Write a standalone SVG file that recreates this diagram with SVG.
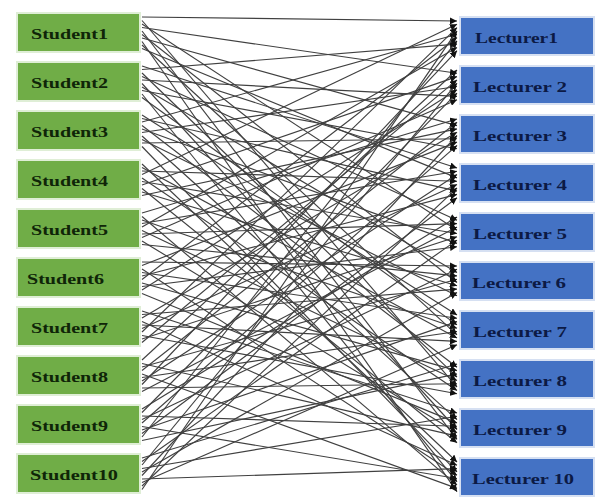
<svg xmlns="http://www.w3.org/2000/svg" width="595" height="498" viewBox="0 0 595 498">
<style>
.s rect{fill:#70AD47;stroke:#dfeed6;stroke-width:2}
.l rect{fill:#4472C4;stroke:#d6e0f2;stroke-width:2}
.s text{font-family:"Liberation Serif",serif;font-weight:bold;font-size:15px;fill:#0f2508}
.l text{font-family:"Liberation Serif",serif;font-weight:bold;font-size:15px;fill:#0c1a45}
#edges line{stroke:#404040;stroke-width:1.15;marker-end:url(#ah)}
</style>
<defs>
<marker id="ah" markerUnits="userSpaceOnUse" markerWidth="8" markerHeight="7" refX="7" refY="3.5" orient="auto">
<path d="M0,0 L7,3.5 L0,7 Z" fill="#111"/>
</marker>
</defs>
<rect width="595" height="498" fill="#fff"/>
<g id="nodes-students">
<g id="student1" class="s"><rect x="17" y="13" width="123" height="39"/><text x="31" y="38.5" textLength="77" lengthAdjust="spacingAndGlyphs">Student1</text></g>
<g id="student2" class="s"><rect x="17" y="62" width="123" height="39"/><text x="31" y="87.5" textLength="77" lengthAdjust="spacingAndGlyphs">Student2</text></g>
<g id="student3" class="s"><rect x="17" y="111" width="123" height="39"/><text x="31" y="136.5" textLength="77" lengthAdjust="spacingAndGlyphs">Student3</text></g>
<g id="student4" class="s"><rect x="17" y="160" width="123" height="39"/><text x="31" y="185.5" textLength="77" lengthAdjust="spacingAndGlyphs">Student4</text></g>
<g id="student5" class="s"><rect x="17" y="209" width="123" height="39"/><text x="31" y="234.5" textLength="77" lengthAdjust="spacingAndGlyphs">Student5</text></g>
<g id="student6" class="s"><rect x="17" y="258" width="123" height="39"/><text x="27" y="283.5" textLength="77" lengthAdjust="spacingAndGlyphs">Student6</text></g>
<g id="student7" class="s"><rect x="17" y="307" width="123" height="39"/><text x="31" y="332.5" textLength="77" lengthAdjust="spacingAndGlyphs">Student7</text></g>
<g id="student8" class="s"><rect x="17" y="356" width="123" height="39"/><text x="31" y="381.5" textLength="77" lengthAdjust="spacingAndGlyphs">Student8</text></g>
<g id="student9" class="s"><rect x="17" y="405" width="123" height="39"/><text x="31" y="430.5" textLength="77" lengthAdjust="spacingAndGlyphs">Student9</text></g>
<g id="student10" class="s"><rect x="17" y="454" width="123" height="39"/><text x="30" y="479.5" textLength="88" lengthAdjust="spacingAndGlyphs">Student10</text></g>
</g>
<g id="nodes-lecturers">
<g id="lecturer1" class="l"><rect x="460" y="17" width="134" height="38"/><text x="475" y="42.5" textLength="83" lengthAdjust="spacingAndGlyphs">Lecturer1</text></g>
<g id="lecturer2" class="l"><rect x="460" y="66" width="134" height="38"/><text x="473" y="91.5" textLength="94" lengthAdjust="spacingAndGlyphs">Lecturer 2</text></g>
<g id="lecturer3" class="l"><rect x="460" y="115" width="134" height="38"/><text x="473" y="140.5" textLength="94" lengthAdjust="spacingAndGlyphs">Lecturer 3</text></g>
<g id="lecturer4" class="l"><rect x="460" y="164" width="134" height="38"/><text x="473" y="189.5" textLength="94" lengthAdjust="spacingAndGlyphs">Lecturer 4</text></g>
<g id="lecturer5" class="l"><rect x="460" y="213" width="134" height="38"/><text x="473" y="238.5" textLength="94" lengthAdjust="spacingAndGlyphs">Lecturer 5</text></g>
<g id="lecturer6" class="l"><rect x="460" y="262" width="134" height="38"/><text x="472" y="287.5" textLength="94" lengthAdjust="spacingAndGlyphs">Lecturer 6</text></g>
<g id="lecturer7" class="l"><rect x="460" y="311" width="134" height="38"/><text x="473" y="336.5" textLength="94" lengthAdjust="spacingAndGlyphs">Lecturer 7</text></g>
<g id="lecturer8" class="l"><rect x="460" y="360" width="134" height="38"/><text x="473" y="385.5" textLength="94" lengthAdjust="spacingAndGlyphs">Lecturer 8</text></g>
<g id="lecturer9" class="l"><rect x="460" y="409" width="134" height="38"/><text x="473" y="434.5" textLength="94" lengthAdjust="spacingAndGlyphs">Lecturer 9</text></g>
<g id="lecturer10" class="l"><rect x="460" y="458" width="134" height="38"/><text x="472" y="483.5" textLength="102" lengthAdjust="spacingAndGlyphs">Lecturer 10</text></g>
</g>
<g id="edges">
<line x1="142" y1="17" x2="457" y2="21"/><line x1="142" y1="27.5" x2="457" y2="73.3"/><line x1="142" y1="38" x2="457" y2="125.6"/><line x1="142" y1="48.5" x2="457" y2="177.9"/><line x1="142" y1="24" x2="457" y2="230.2"/><line x1="142" y1="34.5" x2="457" y2="282.5"/><line x1="142" y1="45" x2="457" y2="334.8"/><line x1="142" y1="20.5" x2="457" y2="387.1"/><line x1="142" y1="31" x2="457" y2="439.4"/><line x1="142" y1="41.5" x2="457" y2="491.7"/>
<line x1="142" y1="69.5" x2="457" y2="44.1"/><line x1="142" y1="80" x2="457" y2="96.4"/><line x1="142" y1="90.5" x2="457" y2="148.7"/><line x1="142" y1="66" x2="457" y2="168"/><line x1="142" y1="76.5" x2="457" y2="220.3"/><line x1="142" y1="87" x2="457" y2="272.6"/><line x1="142" y1="97.5" x2="457" y2="324.9"/><line x1="142" y1="73" x2="457" y2="377.2"/><line x1="142" y1="83.5" x2="457" y2="429.5"/><line x1="142" y1="94" x2="457" y2="481.8"/>
<line x1="142" y1="122" x2="457" y2="34.2"/><line x1="142" y1="132.5" x2="457" y2="86.5"/><line x1="142" y1="143" x2="457" y2="138.8"/><line x1="142" y1="118.5" x2="457" y2="191.1"/><line x1="142" y1="129" x2="457" y2="243.4"/><line x1="142" y1="139.5" x2="457" y2="295.7"/><line x1="142" y1="115" x2="457" y2="315"/><line x1="142" y1="125.5" x2="457" y2="367.3"/><line x1="142" y1="136" x2="457" y2="419.6"/><line x1="142" y1="146.5" x2="457" y2="471.9"/>
<line x1="142" y1="174.5" x2="457" y2="24.3"/><line x1="142" y1="185" x2="457" y2="76.6"/><line x1="142" y1="195.5" x2="457" y2="128.9"/><line x1="142" y1="171" x2="457" y2="181.2"/><line x1="142" y1="181.5" x2="457" y2="233.5"/><line x1="142" y1="192" x2="457" y2="285.8"/><line x1="142" y1="167.5" x2="457" y2="338.1"/><line x1="142" y1="178" x2="457" y2="390.4"/><line x1="142" y1="188.5" x2="457" y2="442.7"/><line x1="142" y1="164" x2="457" y2="462"/>
<line x1="142" y1="227" x2="457" y2="47.4"/><line x1="142" y1="237.5" x2="457" y2="99.7"/><line x1="142" y1="213" x2="457" y2="119"/><line x1="142" y1="223.5" x2="457" y2="171.3"/><line x1="142" y1="234" x2="457" y2="223.6"/><line x1="142" y1="244.5" x2="457" y2="275.9"/><line x1="142" y1="220" x2="457" y2="328.2"/><line x1="142" y1="230.5" x2="457" y2="380.5"/><line x1="142" y1="241" x2="457" y2="432.8"/><line x1="142" y1="216.5" x2="457" y2="485.1"/>
<line x1="142" y1="279.5" x2="457" y2="37.5"/><line x1="142" y1="290" x2="457" y2="89.8"/><line x1="142" y1="265.5" x2="457" y2="142.1"/><line x1="142" y1="276" x2="457" y2="194.4"/><line x1="142" y1="286.5" x2="457" y2="246.7"/><line x1="142" y1="262" x2="457" y2="266"/><line x1="142" y1="272.5" x2="457" y2="318.3"/><line x1="142" y1="283" x2="457" y2="370.6"/><line x1="142" y1="293.5" x2="457" y2="422.9"/><line x1="142" y1="269" x2="457" y2="475.2"/>
<line x1="142" y1="332" x2="457" y2="27.6"/><line x1="142" y1="342.5" x2="457" y2="79.9"/><line x1="142" y1="318" x2="457" y2="132.2"/><line x1="142" y1="328.5" x2="457" y2="184.5"/><line x1="142" y1="339" x2="457" y2="236.8"/><line x1="142" y1="314.5" x2="457" y2="289.1"/><line x1="142" y1="325" x2="457" y2="341.4"/><line x1="142" y1="335.5" x2="457" y2="393.7"/><line x1="142" y1="311" x2="457" y2="413"/><line x1="142" y1="321.5" x2="457" y2="465.3"/>
<line x1="142" y1="384.5" x2="457" y2="50.7"/><line x1="142" y1="360" x2="457" y2="70"/><line x1="142" y1="370.5" x2="457" y2="122.3"/><line x1="142" y1="381" x2="457" y2="174.6"/><line x1="142" y1="391.5" x2="457" y2="226.9"/><line x1="142" y1="367" x2="457" y2="279.2"/><line x1="142" y1="377.5" x2="457" y2="331.5"/><line x1="142" y1="388" x2="457" y2="383.8"/><line x1="142" y1="363.5" x2="457" y2="436.1"/><line x1="142" y1="374" x2="457" y2="488.4"/>
<line x1="142" y1="437" x2="457" y2="40.8"/><line x1="142" y1="412.5" x2="457" y2="93.1"/><line x1="142" y1="423" x2="457" y2="145.4"/><line x1="142" y1="433.5" x2="457" y2="197.7"/><line x1="142" y1="409" x2="457" y2="217"/><line x1="142" y1="419.5" x2="457" y2="269.3"/><line x1="142" y1="430" x2="457" y2="321.6"/><line x1="142" y1="440.5" x2="457" y2="373.9"/><line x1="142" y1="416" x2="457" y2="426.2"/><line x1="142" y1="426.5" x2="457" y2="478.5"/>
<line x1="142" y1="489.5" x2="457" y2="30.9"/><line x1="142" y1="465" x2="457" y2="83.2"/><line x1="142" y1="475.5" x2="457" y2="135.5"/><line x1="142" y1="486" x2="457" y2="187.8"/><line x1="142" y1="461.5" x2="457" y2="240.1"/><line x1="142" y1="472" x2="457" y2="292.4"/><line x1="142" y1="482.5" x2="457" y2="344.7"/><line x1="142" y1="458" x2="457" y2="364"/><line x1="142" y1="468.5" x2="457" y2="416.3"/><line x1="142" y1="479" x2="457" y2="468.6"/>
</g>
</svg>
